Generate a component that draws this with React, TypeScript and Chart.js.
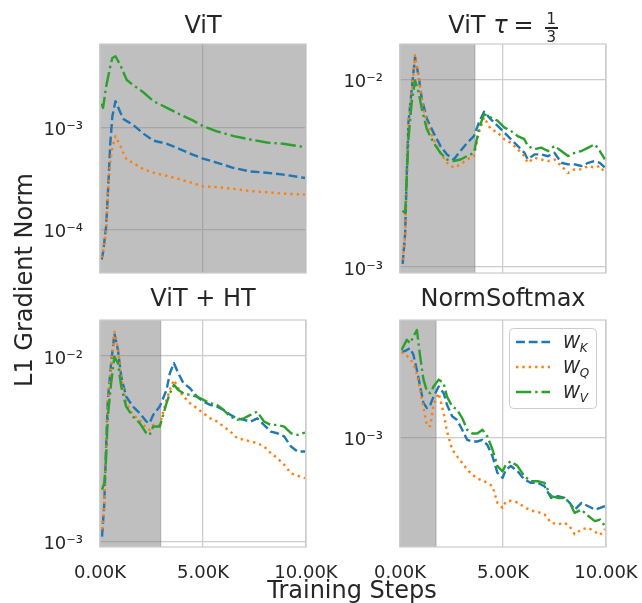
import React, { useEffect, useRef } from 'react';
import { Chart, registerables } from 'chart.js';
Chart.register(...registerables);

const FONT = "'DejaVu Sans', 'Liberation Sans', sans-serif";
const TEXT = '#262626';
const GRID = '#cccccc';
const BLUE = '#1f77b4';
const ORANGE = '#ff7f0e';
const GREEN = '#2ca02c';
const LW = 2.4;
const DASH_K = [3.7 * LW, 1.6 * LW];
const DASH_Q = [1 * LW, 1.65 * LW];
const DASH_V = [6.4 * LW, 1.6 * LW, 1 * LW, 1.6 * LW];

const X_TICKS = [0, 5000, 10000];
const SERIES_NAMES = ['K', 'Q', 'V'];

// ---- ViT ----
const P1_STEPS = [80, 150, 300, 400, 500, 600, 750, 1000, 1150, 1300, 1600, 2100, 2600, 3250, 3900, 4500, 5000, 5700, 6500, 7300, 8100, 8900, 9950];
const P1_WK = [5.1e-5, 6.0e-5, 1.08e-4, 2.65e-4, 7.0e-4, 1.28e-3, 1.8e-3, 1.38e-3, 1.2e-3, 1.15e-3, 1.06e-3, 8.7e-4, 7.4e-4, 6.9e-4, 6.1e-4, 5.4e-4, 4.95e-4, 4.5e-4, 4.0e-4, 3.7e-4, 3.6e-4, 3.45e-4, 3.2e-4];
const P1_WQ = [5.3e-5, 6.2e-5, 9.3e-5, 2.6e-4, 4.6e-4, 6.3e-4, 8.2e-4, 6.5e-4, 5.5e-4, 4.8e-4, 4.5e-4, 3.9e-4, 3.6e-4, 3.35e-4, 3.1e-4, 2.85e-4, 2.65e-4, 2.6e-4, 2.5e-4, 2.38e-4, 2.32e-4, 2.25e-4, 2.2e-4];
const P1_WV = [1.7e-3, 1.55e-3, 2.5e-3, 3.15e-3, 3.95e-3, 4.76e-3, 4.95e-3, 4.0e-3, 3.4e-3, 2.9e-3, 2.6e-3, 2.2e-3, 1.8e-3, 1.55e-3, 1.33e-3, 1.17e-3, 1.03e-3, 9.1e-4, 8.2e-4, 7.6e-4, 7.1e-4, 6.9e-4, 6.4e-4];
const P1_YTICKS = [1e-4, 1e-3];

// ---- ViT tau = 1/3 ----
const P2_STEPS = [130, 250, 330, 410, 570, 730, 900, 1060, 1300, 1630, 1960, 2280, 2610, 2940, 3260, 3590, 3830, 4080, 4400, 4730, 5060, 5380, 5710, 6040, 6200, 6530, 6850, 7180, 7500, 7830, 8160, 8480, 8810, 9140, 9460, 9700, 9950];
const P2_WK = [1.04e-3, 1.51e-3, 3.18e-3, 5.9e-3, 8.9e-3, 1.32e-2, 1.05e-2, 7.9e-3, 6.2e-3, 5.2e-3, 4.43e-3, 3.99e-3, 3.75e-3, 4.17e-3, 4.6e-3, 5.0e-3, 5.9e-3, 6.75e-3, 6.16e-3, 5.68e-3, 5.23e-3, 4.81e-3, 4.43e-3, 4.07e-3, 3.76e-3, 3.99e-3, 3.99e-3, 3.9e-3, 4.07e-3, 3.6e-3, 3.53e-3, 3.53e-3, 3.46e-3, 3.6e-3, 3.68e-3, 3.6e-3, 3.39e-3];
const P2_WQ = [1.09e-3, 1.45e-3, 3.18e-3, 5.68e-3, 8.6e-3, 1.35e-2, 1.05e-2, 7.58e-3, 5.9e-3, 4.81e-3, 4.07e-3, 3.6e-3, 3.39e-3, 3.53e-3, 3.75e-3, 3.91e-3, 5.23e-3, 6.29e-3, 5.45e-3, 5.23e-3, 4.81e-3, 4.61e-3, 4.25e-3, 3.91e-3, 3.6e-3, 3.83e-3, 3.75e-3, 3.68e-3, 3.75e-3, 3.46e-3, 3.18e-3, 3.32e-3, 3.32e-3, 3.46e-3, 3.39e-3, 3.46e-3, 3.18e-3];
const P2_WV = [2.0e-3, 1.94e-3, 3.05e-3, 4.8e-3, 7.58e-3, 9.9e-3, 8.6e-3, 6.98e-3, 5.45e-3, 4.61e-3, 4.07e-3, 3.75e-3, 3.68e-3, 3.75e-3, 3.91e-3, 4.07e-3, 5.45e-3, 6.56e-3, 6.29e-3, 6.04e-3, 5.56e-3, 5.33e-3, 5.0e-3, 4.81e-3, 4.43e-3, 4.25e-3, 4.34e-3, 4.16e-3, 4.43e-3, 4.16e-3, 3.91e-3, 4.07e-3, 4.16e-3, 4.34e-3, 4.52e-3, 4.16e-3, 3.75e-3];
const P2_YTICKS = [1e-3, 1e-2];

// ---- ViT + HT ----
const P3_STEPS = [100, 210, 290, 380, 540, 700, 870, 1030, 1270, 1600, 1930, 2250, 2410, 2580, 2900, 3230, 3390, 3590, 3800, 4050, 4370, 4700, 5020, 5350, 5680, 6000, 6330, 6660, 6980, 7310, 7630, 7960, 8290, 8610, 8940, 9270, 9590, 9950];
const P3_WK = [1.06e-3, 1.61e-3, 3.12e-3, 5.8e-3, 9.1e-3, 1.32e-2, 1.08e-2, 7.74e-3, 6.04e-3, 5.33e-3, 4.91e-3, 4.43e-3, 4.34e-3, 4.81e-3, 5.33e-3, 6.56e-3, 8.07e-3, 9.14e-3, 8.07e-3, 7.13e-3, 6.7e-3, 6.04e-3, 5.67e-3, 5.45e-3, 5.33e-3, 5.11e-3, 4.81e-3, 4.61e-3, 4.52e-3, 4.43e-3, 4.61e-3, 4.25e-3, 3.91e-3, 3.83e-3, 3.68e-3, 3.25e-3, 3.05e-3, 3.05e-3];
const P3_WQ = [1.16e-3, 1.55e-3, 2.87e-3, 5.56e-3, 8.77e-3, 1.35e-2, 1.1e-2, 7.58e-3, 5.56e-3, 4.81e-3, 4.52e-3, 4.07e-3, 3.99e-3, 4.25e-3, 4.25e-3, 5.8e-3, 6.56e-3, 7.43e-3, 6.7e-3, 6.04e-3, 5.56e-3, 5.23e-3, 4.91e-3, 4.61e-3, 4.43e-3, 4.16e-3, 3.91e-3, 3.6e-3, 3.53e-3, 3.46e-3, 3.39e-3, 3.25e-3, 2.99e-3, 2.81e-3, 2.59e-3, 2.33e-3, 2.26e-3, 2.19e-3];
const P3_WV = [1.9e-3, 2.06e-3, 2.75e-3, 4.71e-3, 7.13e-3, 9.9e-3, 9.14e-3, 6.84e-3, 5.33e-3, 4.71e-3, 4.34e-3, 3.83e-3, 3.75e-3, 4.16e-3, 4.16e-3, 5.56e-3, 6.29e-3, 6.98e-3, 6.56e-3, 6.29e-3, 6.16e-3, 6.04e-3, 5.8e-3, 5.56e-3, 5.45e-3, 5.11e-3, 4.71e-3, 4.52e-3, 4.61e-3, 4.81e-3, 5.01e-3, 4.43e-3, 4.25e-3, 4.25e-3, 4.16e-3, 3.83e-3, 3.75e-3, 3.86e-3];
const P3_YTICKS = [1e-3, 1e-2];

// ---- NormSoftmax ----
const P4_STEPS = [80, 160, 330, 490, 650, 820, 980, 1140, 1310, 1470, 1630, 1880, 2120, 2280, 2530, 2770, 3020, 3260, 3510, 3750, 4000, 4240, 4490, 4730, 4980, 5140, 5380, 5710, 6040, 6360, 6690, 7010, 7340, 7670, 7990, 8240, 8480, 8810, 9140, 9460, 9710, 9950];
const P4_WK = [2.9e-3, 2.9e-3, 2.96e-3, 3.03e-3, 2.79e-3, 2.31e-3, 1.88e-3, 1.53e-3, 1.44e-3, 1.5e-3, 1.66e-3, 1.88e-3, 1.73e-3, 1.5e-3, 1.3e-3, 1.24e-3, 1.1e-3, 9.7e-4, 9.5e-4, 9.5e-4, 9.7e-4, 9.1e-4, 7.9e-4, 6.43e-4, 6.04e-4, 6.7e-4, 7.0e-4, 6.56e-4, 5.92e-4, 5.68e-4, 5.68e-4, 5.45e-4, 4.71e-4, 4.81e-4, 4.71e-4, 4.43e-4, 4.07e-4, 4.43e-4, 4.25e-4, 4.07e-4, 4.16e-4, 4.25e-4];
const P4_WQ = [2.9e-3, 2.82e-3, 2.76e-3, 2.65e-3, 2.5e-3, 2.2e-3, 1.8e-3, 1.45e-3, 1.15e-3, 1.15e-3, 1.5e-3, 1.73e-3, 1.35e-3, 1.08e-3, 8.6e-4, 7.9e-4, 7.27e-4, 6.7e-4, 6.3e-4, 6.0e-4, 5.85e-4, 5.68e-4, 5.45e-4, 4.43e-4, 4.16e-4, 4.5e-4, 4.55e-4, 4.45e-4, 4.2e-4, 4.03e-4, 3.95e-4, 3.85e-4, 3.46e-4, 3.39e-4, 3.46e-4, 3.3e-4, 3.0e-4, 3.19e-4, 3.25e-4, 3.1e-4, 2.97e-4, 3.2e-4];
const P4_WV = [2.96e-3, 3.09e-3, 3.36e-3, 3.22e-3, 3.5e-3, 3.8e-3, 2.73e-3, 2.05e-3, 1.77e-3, 1.73e-3, 1.88e-3, 2.05e-3, 1.96e-3, 1.66e-3, 1.47e-3, 1.41e-3, 1.27e-3, 1.1e-3, 1.05e-3, 1.05e-3, 1.1e-3, 1.01e-3, 8.6e-4, 7.0e-4, 6.56e-4, 7.13e-4, 7.43e-4, 7.0e-4, 6.16e-4, 5.8e-4, 5.8e-4, 5.68e-4, 4.81e-4, 4.71e-4, 4.71e-4, 4.43e-4, 3.91e-4, 4.07e-4, 3.76e-4, 3.53e-4, 3.6e-4, 3.32e-4];
const P4_YTICKS = [1e-3];

type Spec = {
  left: number; top: number; w: number; h: number;
  steps: number[]; wk: number[]; wq: number[]; wv: number[];
  yMin: number; yMax: number; yTicks: number[];
  shadeEnd: number; showX: boolean; legend: boolean;
};

const SPECS: Spec[] = [
  { left: 100, top: 44, w: 206, h: 229, steps: P1_STEPS, wk: P1_WK, wq: P1_WQ, wv: P1_WV, yMin: 3.77e-5, yMax: 6.52e-3, yTicks: P1_YTICKS, shadeEnd: 10000, showX: false, legend: false },
  { left: 400, top: 44, w: 206, h: 229, steps: P2_STEPS, wk: P2_WK, wq: P2_WQ, wv: P2_WV, yMin: 9.29e-4, yMax: 1.55e-2, yTicks: P2_YTICKS, shadeEnd: 3640, showX: false, legend: false },
  { left: 100, top: 320, w: 206, h: 227, steps: P3_STEPS, wk: P3_WK, wq: P3_WQ, wv: P3_WV, yMin: 9.32e-4, yMax: 1.563e-2, yTicks: P3_YTICKS, shadeEnd: 2950, showX: true, legend: false },
  { left: 400, top: 320, w: 206, h: 227, steps: P4_STEPS, wk: P4_WK, wq: P4_WQ, wv: P4_WV, yMin: 2.56e-4, yMax: 4.3e-3, yTicks: P4_YTICKS, shadeEnd: 1750, showX: true, legend: true },
];

const SUP: Record<string, string> = { '-': '\u207B', '0': '\u2070', '1': '\u00B9', '2': '\u00B2', '3': '\u00B3', '4': '\u2074', '5': '\u2075', '6': '\u2076', '7': '\u2077', '8': '\u2078', '9': '\u2079' };
function logLabel(v: number): string {
  const e = Math.round(Math.log10(v));
  return '10' + String(e).split('').map((c) => SUP[c] || c).join('');
}

const PADL = 70, PADT = 34, PADR = 72, PADB = 44;

function Panel({ spec }: { spec: Spec }) {
  const ref = useRef<HTMLCanvasElement>(null);
  useEffect(() => {
    const mk = (vals: number[]) => spec.steps.map((s, i) => ({ x: s, y: vals[i] }));
    const shade = {
      id: 'shade',
      beforeDatasetsDraw(chart: any) {
        const { ctx, chartArea: a, scales } = chart;
        const xe = Math.min(scales.x.getPixelForValue(spec.shadeEnd), a.right);
        ctx.save();
        ctx.fillStyle = 'rgba(128,128,128,0.5)';
        ctx.fillRect(a.left, a.top, xe - a.left, a.bottom - a.top);
        if (xe < a.right - 1) {
          ctx.strokeStyle = 'rgba(128,128,128,0.5)';
          ctx.lineWidth = 1;
          ctx.beginPath();
          ctx.moveTo(xe, a.top);
          ctx.lineTo(xe, a.bottom);
          ctx.stroke();
        }
        ctx.restore();
      },
    };
    const frame = {
      id: 'frame',
      afterDatasetsDraw(chart: any) {
        const { ctx, chartArea: a } = chart;
        ctx.save();
        ctx.strokeStyle = GRID;
        ctx.lineWidth = 1.25;
        ctx.strokeRect(a.left, a.top, a.right - a.left, a.bottom - a.top);
        ctx.restore();
      },
    };
    const legend = {
      id: 'customLegend',
      afterDraw(chart: any) {
        if (!spec.legend) return;
        const { ctx, chartArea: a } = chart;
        const bw = 87, bh = 80;
        const bx = a.right - 97, by = a.top + 8;
        ctx.save();
        ctx.beginPath();
        ctx.roundRect(bx + 0.5, by + 0.5, bw, bh, 4);
        ctx.fillStyle = 'rgba(255,255,255,0.8)';
        ctx.fill();
        ctx.strokeStyle = GRID;
        ctx.lineWidth = 1;
        ctx.stroke();
        const rows = [
          { color: BLUE, dash: DASH_K, sub: SERIES_NAMES[0] },
          { color: ORANGE, dash: DASH_Q, sub: SERIES_NAMES[1] },
          { color: GREEN, dash: DASH_V, sub: SERIES_NAMES[2] },
        ];
        rows.forEach((r, i) => {
          const y = by + 14 + i * 25;
          ctx.beginPath();
          ctx.setLineDash(r.dash);
          ctx.lineCap = 'butt';
          ctx.strokeStyle = r.color;
          ctx.lineWidth = LW;
          ctx.moveTo(bx + 7, y);
          ctx.lineTo(bx + 41, y);
          ctx.stroke();
          ctx.setLineDash([]);
          ctx.fillStyle = TEXT;
          ctx.textBaseline = 'alphabetic';
          ctx.textAlign = 'left';
          ctx.font = `italic 17px ${FONT}`;
          const tx = bx + 54;
          const base = y + 6;
          ctx.fillText('W', tx, base);
          const wW = ctx.measureText('W').width;
          ctx.font = `italic 12px ${FONT}`;
          ctx.fillText(r.sub, tx + wW, base + 3.5);
        });
        ctx.restore();
      },
    };
    const ds = (label: string, vals: number[], color: string, dash: number[], order: number) => ({
      label,
      data: mk(vals),
      borderColor: color,
      backgroundColor: color,
      borderWidth: LW,
      borderDash: dash,
      borderJoinStyle: 'round' as const,
      pointRadius: 0,
      tension: 0,
      fill: false,
      order,
    });
    const chart = new Chart(ref.current as HTMLCanvasElement, {
      type: 'line',
      data: {
        datasets: [
          ds('W_K', spec.wk, BLUE, DASH_K, 2),
          ds('W_Q', spec.wq, ORANGE, DASH_Q, 1),
          ds('W_V', spec.wv, GREEN, DASH_V, 0),
        ],
      },
      options: {
        animation: false,
        responsive: false,
        maintainAspectRatio: false,
        layout: { padding: { left: 0, top: PADT, right: PADR, bottom: 0 } },
        plugins: { legend: { display: false }, tooltip: { enabled: false }, title: { display: false } },
        scales: {
          x: {
            type: 'linear',
            min: 0,
            max: 10000,
            bounds: 'data',
            afterFit: (s: any) => { s.height = PADB; },
            afterBuildTicks: (s: any) => { s.ticks = X_TICKS.map((v) => ({ value: v })); },
            grid: { color: GRID, lineWidth: 1.25, drawTicks: false },
            border: { display: false },
            ticks: {
              display: spec.showX,
              padding: 16,
              autoSkip: false,
              maxRotation: 0,
              color: TEXT,
              font: { family: FONT, size: 18 },
              callback: (v: any) => (Number(v) / 1000).toFixed(2) + 'K',
            },
          },
          y: {
            type: 'logarithmic',
            min: spec.yMin,
            max: spec.yMax,
            bounds: 'data',
            afterFit: (s: any) => { s.width = PADL; },
            afterBuildTicks: (s: any) => { s.ticks = spec.yTicks.map((v) => ({ value: v })); },
            grid: { color: GRID, lineWidth: 1.25, drawTicks: false },
            border: { display: false },
            ticks: {
              padding: 17,
              autoSkip: false,
              labelOffset: 3,
              color: TEXT,
              font: { family: FONT, size: 18 },
              callback: (v: any) => logLabel(Number(v)),
            },
          },
        },
      } as any,
      plugins: [shade, frame, legend],
    });
    return () => chart.destroy();
  }, []);
  return (
    <canvas
      ref={ref}
      width={PADL + spec.w + PADR}
      height={PADT + spec.h + PADB}
      style={{ position: 'absolute', left: spec.left - PADL, top: spec.top - PADT }}
    />
  );
}

const TSIZE = 24;
function titleStyle(cx: number, baseline: number): React.CSSProperties {
  return {
    position: 'absolute',
    left: cx - 150,
    width: 300,
    top: baseline - 0.846 * TSIZE,
    textAlign: 'center',
    fontFamily: FONT,
    fontSize: TSIZE,
    lineHeight: TSIZE + 'px',
    color: TEXT,
    whiteSpace: 'nowrap',
  };
}

function Fraction() {
  const common: React.CSSProperties = { position: 'absolute', left: 0, width: 13, textAlign: 'center', fontSize: 15, lineHeight: '15px' };
  return (
    <span style={{ display: 'inline-block', position: 'relative', width: 13, height: 0, marginLeft: 11 }}>
      <span style={{ ...common, top: -8.3 - 12.7 }}>1</span>
      <span style={{ position: 'absolute', left: 0, width: 13, top: -5.6, height: 1.2, background: TEXT }} />
      <span style={{ ...common, top: 10 - 12.7 }}>3</span>
    </span>
  );
}

export default function App() {
  return (
    <div style={{ position: 'fixed', left: 0, top: 0, width: 642, height: 603, background: '#fff', overflow: 'hidden' }}>
      {SPECS.map((s, i) => <Panel key={i} spec={s} />)}
      <div style={titleStyle(203, 33.3)}>ViT</div>
      <div style={titleStyle(503, 33.3)}>
        {'ViT '}<i>τ</i><span style={{ marginLeft: 6 }}>=</span><Fraction />
      </div>
      <div style={titleStyle(203, 306.3)}>ViT + HT</div>
      <div style={titleStyle(503, 306.3)}>NormSoftmax</div>
      <div
        style={{
          position: 'absolute', left: 24 - 150, top: 280 - 12, width: 300, height: 24,
          lineHeight: '24px', textAlign: 'center', fontFamily: FONT, fontSize: 24, color: TEXT,
          transform: 'rotate(-90deg)', transformOrigin: 'center center', whiteSpace: 'nowrap',
        }}
      >
        L1 Gradient Norm
      </div>
      <div style={titleStyle(352, 598)}>Training Steps</div>
    </div>
  );
}
